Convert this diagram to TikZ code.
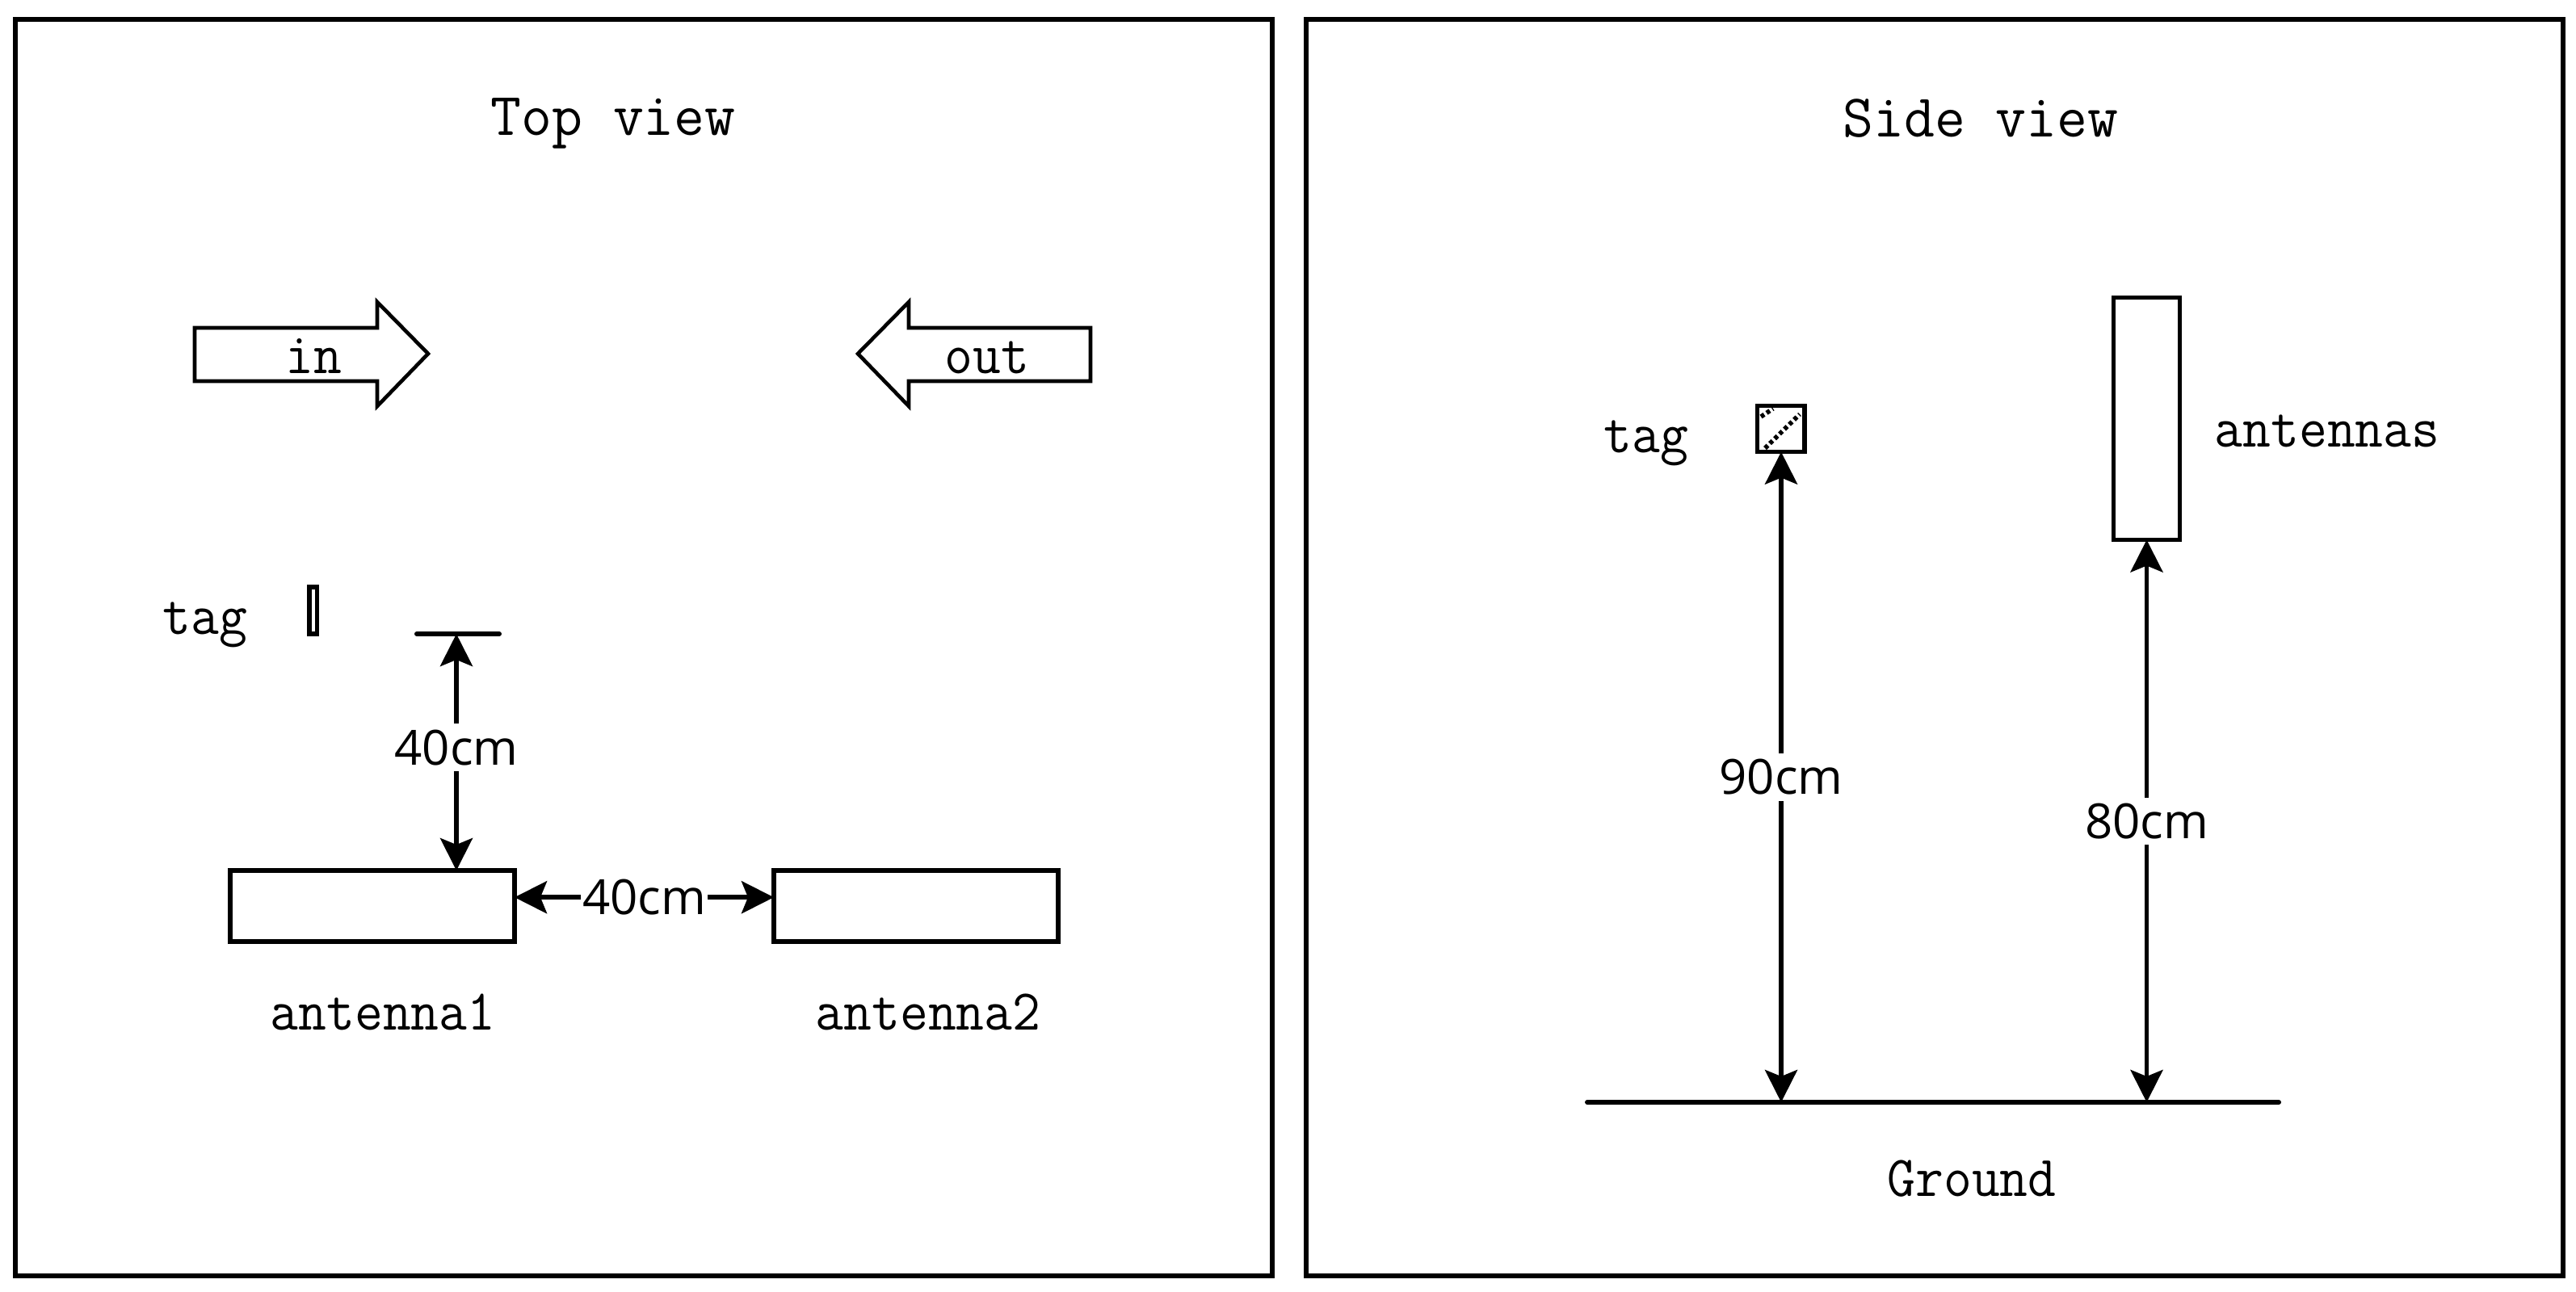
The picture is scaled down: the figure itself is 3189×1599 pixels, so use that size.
\documentclass[tikz,border=0pt]{standalone}
\usepackage{fontspec}
\newfontfamily\dimfont{Open Sans}
\usetikzlibrary{arrows.meta}
\newcommand{\narrowtxt}[1]{\scalebox{.945}[1]{#1}}
\newcommand{\widetxt}[1]{\scalebox{1.028}[1.05]{#1}}
\tikzset{
  x=0.25pt,y=-0.25pt,
  frame/.style={draw=black,line width=1.5pt,fill=none,outer sep=0pt},
  shapebox/.style={draw=black,line width=1.4pt,fill=white,inner sep=0pt,outer sep=0pt},
  plain/.style={line width=1.5pt,line cap=round},
  dimarrow/.style={line width=1.4pt,{Stealth[length=10pt,width=10pt,inset=2pt]}-{Stealth[length=10pt,width=10pt,inset=2pt]}},
  lbl/.style={font=\ttfamily\fontsize{17.9}{20}\selectfont,anchor=base,inner sep=0pt},
  dimlbl/.style={font=\dimfont\fontsize{15}{18}\selectfont,fill=white,inner sep=1.8pt},
  blockarrow/.style={draw=black,line width=1.15pt,fill=white,line join=miter},
  dots/.style={line width=1.4pt,dash pattern=on 1.2pt off 0.9pt}
}
\begin{document}
\begin{tikzpicture}
\useasboundingbox (0,0) rectangle (3189,1599);
% frames
\node[frame,minimum width=389pt,minimum height=389pt,inner sep=0pt] (fL) at (797,802) {};
\node[frame,minimum width=389pt,minimum height=389pt,inner sep=0pt] (fR) at (2395,802) {};
% titles
\node[lbl] (tTop) at (759,167) {\widetxt{Top view}};
\node[lbl] (tSide) at (2452,169) {\widetxt{Side view}};
% block arrows
\draw[blockarrow] (241,406) -- (467,406) -- (467,374) -- (530,438) -- (467,503) -- (467,472) -- (241,472) -- cycle;
\draw[blockarrow] (1350,406) -- (1125,406) -- (1125,374) -- (1062,438) -- (1125,503) -- (1125,472) -- (1350,472) -- cycle;
\node[lbl] (lIn) at (388,462) {\narrowtxt{in}};
\node[lbl] (lOut) at (1222,462) {\narrowtxt{out}};
% top view
\node[lbl] (lTag1) at (254,785) {\narrowtxt{tag}};
\node[shapebox,minimum width=2.4pt,minimum height=14.5pt] (tag1) at (387.5,756) {};
\coordinate (barL) at (516,785);
\coordinate (barR) at (618,785);
\coordinate (barM) at (565,785);
\draw[plain] (barL) -- (barR);
\node[shapebox,minimum width=88pt,minimum height=22pt] (ant1) at (461,1122) {};
\node[shapebox,minimum width=88pt,minimum height=22pt] (ant2) at (1134,1122) {};
\coordinate (a1top) at (barM |- ant1.north);
\coordinate (a1r) at ([yshift=2.7pt]ant1.east);
\coordinate (a2l) at ([yshift=2.7pt]ant2.west);
\draw[dimarrow] (barM) -- (a1top) node[dimlbl,pos=0.48] (d1) {40cm};
\draw[dimarrow] (a1r) -- (a2l) node[dimlbl,midway,inner xsep=0.5pt,inner ysep=0pt] (d2) {40cm};
\node[lbl] (lA1) at (474,1275) {\narrowtxt{antenna1}};
\node[lbl] (lA2) at (1149,1275) {\narrowtxt{antenna2}};
% side view
\node[lbl] (lTag2) at (2038,560) {\narrowtxt{tag}};
\node[shapebox,minimum width=14.6pt,minimum height=14.3pt] (tag2) at (2204.5,531) {};
\draw[dots] (2185,555) -- (2228,513);
\draw[dots] (2180,516) -- (2195,506);
\node[shapebox,minimum width=20.5pt,minimum height=75pt] (ants) at (2657.5,518.5) {};
\node[lbl] (lAnts) at (2881,553) {\narrowtxt{antennas}};
\coordinate (gL) at (1965,1365);
\coordinate (gR) at (2821,1365);
\draw[plain] (gL) -- (gR);
\coordinate (g1) at (2205,1365);
\coordinate (g2) at (ants.south |- gL);
\draw[dimarrow] (g1) -- (g1 |- tag2.south) node[dimlbl,pos=0.5] (d3) {90cm};
\draw[dimarrow] (g2) -- (ants.south) node[dimlbl,pos=0.5] (d4) {80cm};
\node[lbl] (lG) at (2441,1481) {\narrowtxt{Ground}};
\end{tikzpicture}
\end{document}
